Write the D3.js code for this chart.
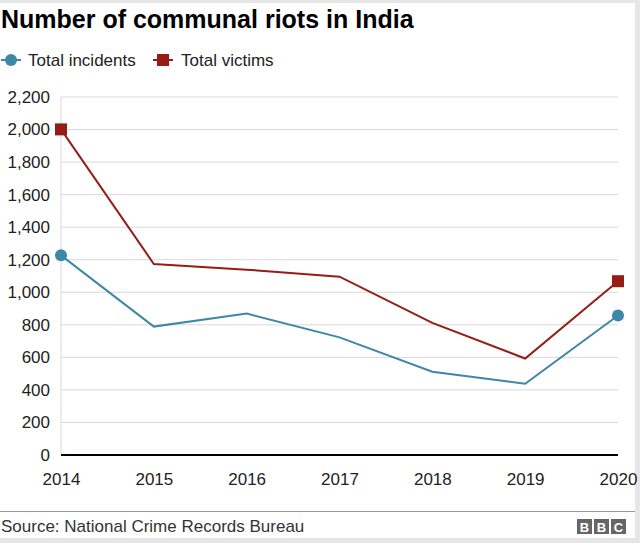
<!DOCTYPE html>
<html>
<head>
<meta charset="utf-8">
<script src="https://cdn.jsdelivr.net/npm/d3@7"></script>
<style>
  body { margin: 0; background: #e6e6e6; }
  svg { display: block; font-family: "Liberation Sans", Arial, Helvetica, sans-serif; }
</style>
</head>
<body>
<svg id="chart" width="640" height="543"></svg>
<script>
// data
const years = [2014, 2015, 2016, 2017, 2018, 2019, 2020];
const incidents = [1227, 789, 869, 723, 512, 438, 857];
const victims = [2001, 1174, 1139, 1096, 812, 593, 1068];
const yTicks = [0, 200, 400, 600, 800, 1000, 1200, 1400, 1600, 1800, 2000, 2200];

const blue = "#3f87a6", red = "#961d16";

let svg = d3.select("#chart");

// white card with grey frame around it
svg.append("rect").attr("x", 0).attr("y", 3).attr("width", 635).attr("height", 535).attr("fill", "#fff");

svg.append("text")
  .attr("x", 1).attr("y", 28)
  .attr("font-size", 25).attr("font-weight", "bold").attr("fill", "#000")
  .text("Number of communal riots in India");

// legend
let legend = svg.append("g").attr("transform", "translate(0,60)");
legend.append("line").attr("x1", 1).attr("x2", 21).attr("stroke", blue).attr("stroke-width", 2);
legend.append("circle").attr("cx", 11).attr("r", 6).attr("fill", blue);
legend.append("text").attr("x", 28).attr("y", 6).attr("font-size", 17).attr("fill", "#222").text("Total incidents");
legend.append("line").attr("x1", 153).attr("x2", 173).attr("stroke", red).attr("stroke-width", 2);
legend.append("rect").attr("x", 157).attr("y", -6).attr("width", 12).attr("height", 12).attr("fill", red);
legend.append("text").attr("x", 181).attr("y", 6).attr("font-size", 17).attr("fill", "#222").text("Total victims");

let x = d3.scaleLinear().domain([2014, 2020]).range([61, 618]);
let y = d3.scaleLinear().domain([0, 2200]).range([455, 97]);

// gridlines
svg.append("g").selectAll("line")
  .data(yTicks.filter(d => d > 0))
  .enter().append("line")
  .attr("x1", 61).attr("x2", 618)
  .attr("y1", d => y(d)).attr("y2", d => y(d))
  .attr("stroke", "#d9d9d9").attr("stroke-width", 1);

svg.append("line").attr("x1", 61).attr("x2", 61).attr("y1", y(2200)).attr("y2", y(0))
  .attr("stroke", "#d9d9d9");

// y axis labels
let yAxis = d3.axisLeft(y).tickValues(yTicks).tickSize(0).tickPadding(11)
  .tickFormat(d3.format(","));
let ga = svg.append("g").attr("transform", "translate(61,0)").call(yAxis);
ga.select(".domain").remove();
ga.selectAll("text").attr("font-size", 17).attr("fill", "#222").attr("font-family", null);

// x axis
let xAxis = d3.axisBottom(x).tickValues(years).tickSize(0).tickPadding(18).tickFormat(d3.format("d"));
let gx = svg.append("g").attr("transform", "translate(0,455)").call(xAxis);
gx.select(".domain").remove();
gx.selectAll("text").attr("font-size", 17).attr("fill", "#222").attr("font-family", null);
svg.append("line").attr("x1", 61).attr("x2", 618).attr("y1", 455).attr("y2", 455)
  .attr("stroke", "#000").attr("stroke-width", 2);

// lines
let line = d3.line().x((d, i) => x(years[i])).y(d => y(d));
svg.append("path").datum(incidents).attr("d", line)
  .attr("fill", "none").attr("stroke", blue).attr("stroke-width", 2);
svg.append("path").datum(victims).attr("d", line)
  .attr("fill", "none").attr("stroke", red).attr("stroke-width", 2);

// end markers
let ends = [0, years.length - 1];
svg.append("g").selectAll("circle").data(ends).enter().append("circle")
  .attr("cx", i => x(years[i])).attr("cy", i => y(incidents[i])).attr("r", 6).attr("fill", blue);
svg.append("g").selectAll("rect").data(ends).enter().append("rect")
  .attr("x", i => x(years[i]) - 6).attr("y", i => y(victims[i]) - 6)
  .attr("width", 12).attr("height", 12).attr("fill", red);

// footer
svg.append("line").attr("x1", 0).attr("x2", 635).attr("y1", 511.5).attr("y2", 511.5)
  .attr("stroke", "#999").attr("stroke-width", 1);
svg.append("text").attr("x", 1).attr("y", 532).attr("font-size", 17).attr("fill", "#333")
  .text("Source: National Crime Records Bureau");

let bbc = svg.append("g").attr("transform", "translate(577,519)");
["B", "B", "C"].forEach((c, i) => {
  bbc.append("rect").attr("x", i * 17).attr("y", 0).attr("width", 15).attr("height", 15).attr("fill", "#666");
  bbc.append("text").attr("x", i * 17 + 7.5).attr("y", 12.5).attr("text-anchor", "middle")
    .attr("font-size", 13).attr("font-weight", "bold").attr("fill", "#fff").text(c);
});
</script>
</body>
</html>
